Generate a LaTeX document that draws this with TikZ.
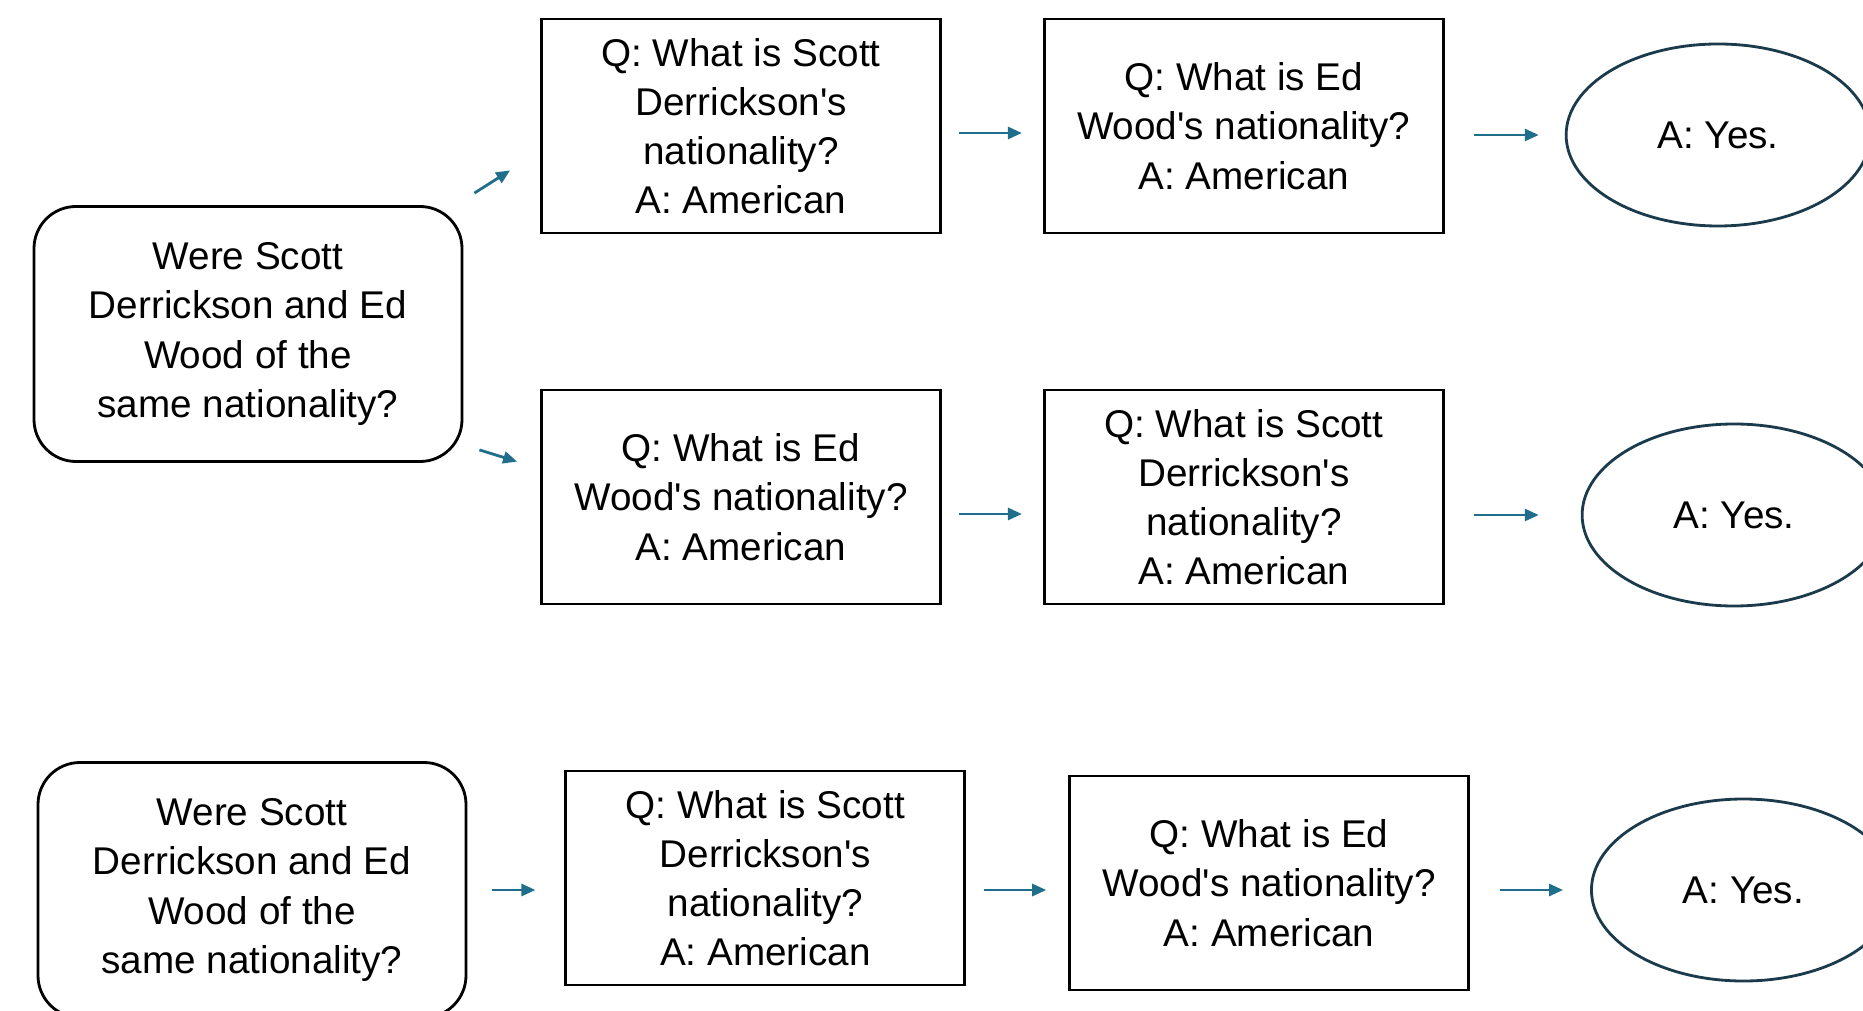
\documentclass[tikz,border=0pt]{standalone}
\usepackage{fontspec}
\setmainfont{Liberation Sans}
\usetikzlibrary{arrows.meta,positioning,shapes.geometric}
\definecolor{arrowblue}{HTML}{1F6E8C}
\definecolor{ovalline}{HTML}{1B3A4B}
\tikzset{
question/.style={draw,rounded corners=.42cm,line width=.8pt,minimum width=4.28cm,minimum height=2.55cm,align=center},
qabox/.style={draw,line width=.8pt,minimum width=3.99cm,minimum height=2.14cm,align=center},
answer/.style={draw=ovalline,ellipse,line width=.8pt,minimum width=3.04cm,minimum height=1.82cm,align=center},
flow/.style={-{Triangle[length=1.4mm,width=1.2mm]},draw=arrowblue,line width=.8pt}
}
\begin{document}
\begin{tikzpicture}[font=\fontsize{11}{14}\selectfont]
\useasboundingbox (0,0) rectangle (18.63,-10.11);
% decomposed question, both orders
\node[question](q1) at (2.48,-3.34){Were Scott\\Derrickson and Ed\\Wood of the\\same nationality?};
\node[qabox](s1a) at (7.41,-1.26){Q: What is Scott\\Derrickson\textquotesingle s\\nationality?\\A: American};
\node[qabox,right=1.01cm of s1a](s1b){Q: What is Ed\\Wood\textquotesingle s nationality?\\A: American};
\node[answer,right=1.2cm of s1b,yshift=-.09cm](a1){A: Yes.};
\node[qabox](s2a) at (7.41,-4.97){Q: What is Ed\\Wood\textquotesingle s nationality?\\A: American};
\node[qabox,right=1.01cm of s2a](s2b){Q: What is Scott\\Derrickson\textquotesingle s\\nationality?\\A: American};
\node[answer,right=1.36cm of s2b,yshift=-.18cm](a2){A: Yes.};
% single chain
\node[question](q2) at (2.52,-8.9){Were Scott\\Derrickson and Ed\\Wood of the\\same nationality?};
\node[qabox,right=.97cm of q2,yshift=.12cm](s3a){Q: What is Scott\\Derrickson\textquotesingle s\\nationality?\\A: American};
\node[qabox,right=1.02cm of s3a,yshift=-.05cm](s3b){Q: What is Ed\\Wood\textquotesingle s nationality?\\A: American};
\node[answer,right=1.2cm of s3b,yshift=-.07cm](a3){A: Yes.};
\draw[flow]([shift={(.11,.12)}]q1.north east)--([shift={(-.30,.64)}]s1a.south west);
\draw[flow]([shift={(.16,.13)}]q1.south east)--([shift={(-.23,-.73)}]s2a.north west);
\draw[flow,shorten <=.17cm,shorten >=.21cm]([yshift=-.07cm]s1a.east)--([yshift=-.07cm]s1b.west);
\draw[flow,shorten <=.29cm,shorten >=.26cm](s1b.east |- a1)--(a1.west);
\draw[flow,shorten <=.17cm,shorten >=.21cm]([yshift=-.17cm]s2a.east)--([yshift=-.17cm]s2b.west);
\draw[flow,shorten <=.29cm,shorten >=.42cm](s2b.east |- a2)--(a2.west);
\draw[flow,shorten <=.25cm,shorten >=.29cm](q2.east)--(q2.east -| s3a.west);
\draw[flow,shorten <=.18cm,shorten >=.22cm](s3a.east |- a3)--(s3b.west |- a3);
\draw[flow,shorten <=.30cm,shorten >=.27cm](s3b.east |- a3)--(a3.west);
\end{tikzpicture}
\end{document}
